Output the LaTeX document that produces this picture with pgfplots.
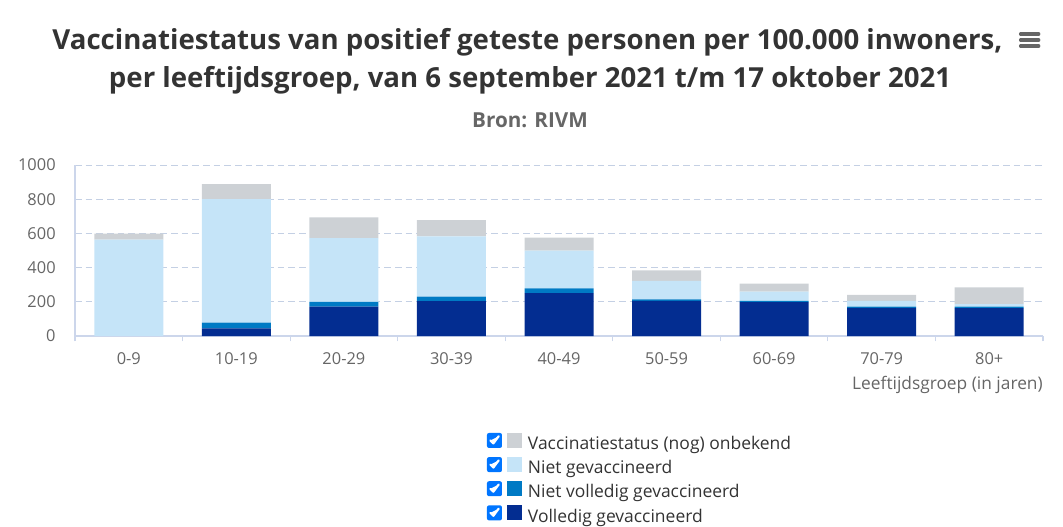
\documentclass[border=0pt]{standalone}
\usepackage{fontspec}
\setmainfont{Open Sans}
\usepackage{pgfplots}
\pgfplotsset{compat=1.18}
\definecolor{cU}{RGB}{205,209,213}
\definecolor{cN}{RGB}{197,228,248}
\definecolor{cNV}{RGB}{0,122,196}
\definecolor{cV}{RGB}{3,45,145}
\definecolor{titlec}{RGB}{51,51,51}
\definecolor{subc}{RGB}{102,102,102}
\definecolor{axc}{RGB}{204,214,235}
\definecolor{gridc}{RGB}{196,208,228}
\definecolor{chk}{RGB}{0,117,255}
\pgfplotstableread{
x V NV N U
0 0 0 563 35
1 45 33 722 88
2 172 28 372 122
3 204 27 351 96
4 251 27 222 76
5 206 8 109 61
6 198 8 53 47
7 164 8 34 35
8 163 9 14 98
}\datatab
\pgfplotsset{
  mylegend/.style={legend image code/.code={
    \fill[chk, rounded corners=1.5pt] (0pt,-2pt) rectangle (11.25pt,9.25pt);
    \draw[white, line width=1.6pt, line cap=round, line join=round] (2.6pt,3.6pt) -- (4.8pt,1.4pt) -- (8.8pt,6.8pt);
    \fill[#1] (15pt,-2pt) rectangle (26.25pt,9.25pt);
  }}
}
\begin{document}
\begin{tikzpicture}
\path[use as bounding box] (0,0) rectangle (797.25pt,-395.25pt);
\node[font=\bfseries\fontsize{20.7}{24}\selectfont, text=titlec] at (395.6pt,-31.5pt) {Vaccinatiestatus van positief geteste personen per 100.000 inwoners,};
\node[font=\bfseries\fontsize{20.7}{24}\selectfont, text=titlec] at (397.5pt,-60pt) {per leeftijdsgroep, van 6 september 2021 t/m 17 oktober 2021};
\node[font=\bfseries\fontsize{15.5}{18}\selectfont, text=subc] at (397.5pt,-90pt) {Bron: RIVM};
\foreach \yy in {25.5,30,34.5} {\draw[subc, line width=2.6pt, line cap=round] (765.5pt,-\yy pt) -- (779pt,-\yy pt);}
\begin{axis}[
  at={(56.25pt,-252pt)}, anchor=south west,
  scale only axis, width=726pt, height=128.25pt,
  xmin=-0.5, xmax=8.5, ymin=0, ymax=1000,
  ybar stacked, bar width=51.75pt,
  axis x line=bottom, axis y line=left,
  axis line style={-, draw=axc, line width=0.8pt},
  ytick={0,200,400,600,800,1000},
  ymajorgrids, grid style={dash pattern=on 5pt off 3pt, draw=gridc, line width=0.6pt},
  xtick={0,...,8},
  xticklabels={0-9,10-19,20-29,30-39,40-49,50-59,60-69,70-79,80+},
  major tick length=0pt,
  extra x ticks={-0.5,0.5,1.5,2.5,3.5,4.5,5.5,6.5,7.5,8.5},
  extra x tick labels={},
  extra x tick style={major tick length=4pt, tick align=outside, tick style={draw=axc, line width=0.8pt}, grid=none},
  ticklabel style={font=\fontsize{12.3}{14}\selectfont, text=subc},
  yticklabel style={xshift=-11pt},
  xticklabel style={yshift=-9pt},
  /pgf/number format/assume math mode=true,
  /pgf/number format/1000 sep={},
  xlabel={Leeftijdsgroep (in jaren)},
  xlabel style={at={(rel axis cs:1,-0.285)}, anchor=east, inner sep=0pt, font=\fontsize{13}{15}\selectfont, text=subc},
  reverse legend,
  legend style={at={(rel axis cs:0.4256,-0.567)}, anchor=north west, draw=none, fill=none, inner sep=0pt, outer sep=0pt,
    font=\fontsize{13.1}{15}\selectfont, text=titlec, row sep=2.6pt, column sep=4.5pt,
    nodes={inner sep=0pt, text height=9.5pt, text depth=3pt}},
  legend cell align=left,
]
\addplot[fill=cV, draw=none, mylegend=cV] table[x=x, y=V] {\datatab};
\addlegendentry{Volledig gevaccineerd}
\addplot[fill=cNV, draw=none, mylegend=cNV] table[x=x, y=NV] {\datatab};
\addlegendentry{Niet volledig gevaccineerd}
\addplot[fill=cN, draw=none, mylegend=cN] table[x=x, y=N] {\datatab};
\addlegendentry{Niet gevaccineerd}
\addplot[fill=cU, draw=none, mylegend=cU] table[x=x, y=U] {\datatab};
\addlegendentry{Vaccinatiestatus (nog) onbekend}
\end{axis}
\end{tikzpicture}
\end{document}
